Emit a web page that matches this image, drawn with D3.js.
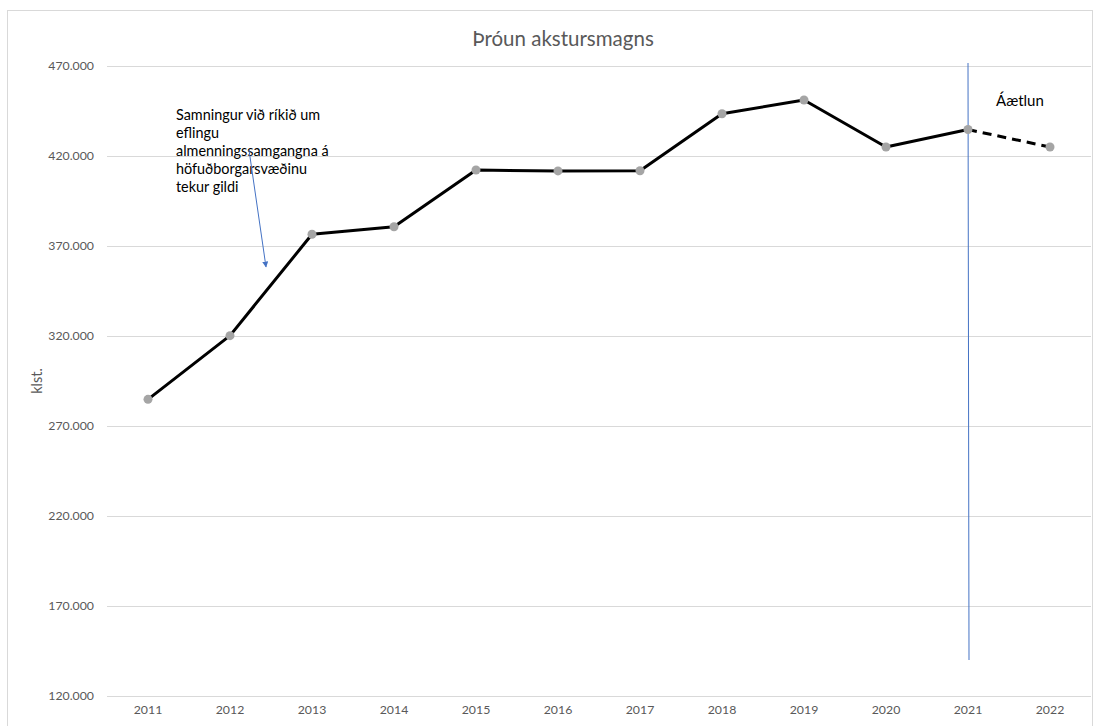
<!DOCTYPE html>
<html><head><meta charset="utf-8">
<script src="https://cdn.jsdelivr.net/npm/d3@7"></script>
<style>body{margin:0;background:#fff;}svg{display:block;}</style>
</head><body>
<svg id="c" width="1096" height="726"></svg>
<script>
const years = ["2011","2012","2013","2014","2015","2016","2017","2018","2019","2020","2021","2022"];
const values = [284800, 320200, 376500, 380700, 412200, 411700, 411800, 443500, 451100, 425000, 434700, 425000];
const actualCount = 11; // 2011-2021 solid, 2021-2022 dashed (Áætlun)
const yTicks = [120000,170000,220000,270000,320000,370000,420000,470000];
const titleText = "Þróun akstursmagns";
const yAxisTitle = "klst.";
const annotationLines = ["Samningur við ríkið um","eflingu","almenningssamgangna á","höfuðborgarsvæðinu","tekur gildi"];
const planLabel = "Áætlun";
const planYear = "2021";

(function(){
const svg = d3.select("#c");
const font = "Lato, sans-serif";
const pL = 107, pR = 1091, pT = 66, pB = 696;

svg.append("rect").attr("x",7.5).attr("y",10.5).attr("width",1085).attr("height",730)
  .attr("fill","#fff").attr("stroke","#d9d9d9");

const x = d3.scaleBand().domain(years).range([pL,pR]);
const y = d3.scaleLinear().domain([120000,470000]).range([pB,pT]);
const fmt = v => d3.format(",")(v).replace(/,/g,".");

svg.append("g").selectAll("line").data(yTicks).join("line")
  .attr("x1",pL).attr("x2",pR)
  .attr("y1",d=>Math.round(y(d))+0.5).attr("y2",d=>Math.round(y(d))+0.5)
  .attr("stroke","#d9d9d9").attr("stroke-width",1);

const yAx = svg.append("g").attr("transform",`translate(${pL-13},0)`)
  .call(d3.axisLeft(y).tickValues(yTicks).tickFormat(fmt).tickSize(0).tickPadding(0));
yAx.select(".domain").remove();
yAx.selectAll("text").attr("font-family",font).attr("font-size",12.3).attr("fill","#595959");

const xAx = svg.append("g").attr("transform",`translate(0,${pB+9})`)
  .call(d3.axisBottom(x).tickSize(0).tickPadding(0));
xAx.select(".domain").remove();
xAx.selectAll("text").attr("font-family",font).attr("font-size",12.3).attr("fill","#595959");

svg.append("text").attr("x",563).attr("y",46).attr("text-anchor","middle")
  .attr("font-family",font).attr("font-size",20.5).attr("fill","#595959").text(titleText);

svg.append("text").attr("transform",`translate(42,${(pT+pB)/2}) rotate(-90)`)
  .attr("text-anchor","middle").attr("font-family",font).attr("font-size",14.5).attr("fill","#595959").text(yAxisTitle);

const pts = years.map((yr,i)=>({yr, v: values[i]}));
const line = d3.line().x(d=>x(d.yr)+x.bandwidth()/2).y(d=>y(d.v));

svg.append("path").datum(pts.slice(0,actualCount)).attr("d",line)
  .attr("fill","none").attr("stroke","#000").attr("stroke-width",3).attr("stroke-linejoin","round");
svg.append("path").datum(pts.slice(actualCount-1)).attr("d",line)
  .attr("fill","none").attr("stroke","#000").attr("stroke-width",3).attr("stroke-dasharray","9,6");

const px = x(planYear)+x.bandwidth()/2;
svg.append("line").attr("x1",px).attr("x2",px+1).attr("y1",63).attr("y2",660)
  .attr("stroke","#4472C4").attr("stroke-width",1);

svg.append("g").selectAll("circle").data(pts).join("circle")
  .attr("cx",d=>x(d.yr)+x.bandwidth()/2).attr("cy",d=>y(d.v)).attr("r",4.5)
  .attr("fill","#a5a5a5");

const ann = svg.append("text").attr("font-family",font).attr("font-size",14.4).attr("fill","#000");
annotationLines.forEach((t,i)=>{
  ann.append("tspan").attr("x",176).attr("y",120+i*17.9).text(t);
});

const defs = svg.append("defs");
defs.append("marker").attr("id","ah").attr("viewBox","0 0 10 10").attr("refX",9).attr("refY",5)
  .attr("markerWidth",6).attr("markerHeight",6).attr("orient","auto")
  .append("path").attr("d","M0,0 L10,5 L0,10 z").attr("fill","#4472C4");
svg.append("line").attr("x1",249).attr("y1",150).attr("x2",266).attr("y2",267)
  .attr("stroke","#4472C4").attr("stroke-width",1).attr("marker-end","url(#ah)");

svg.append("text").attr("x",996).attr("y",105.5).attr("font-family",font).attr("font-size",15)
  .attr("fill","#000").text(planLabel);
})();
</script>
</body></html>
